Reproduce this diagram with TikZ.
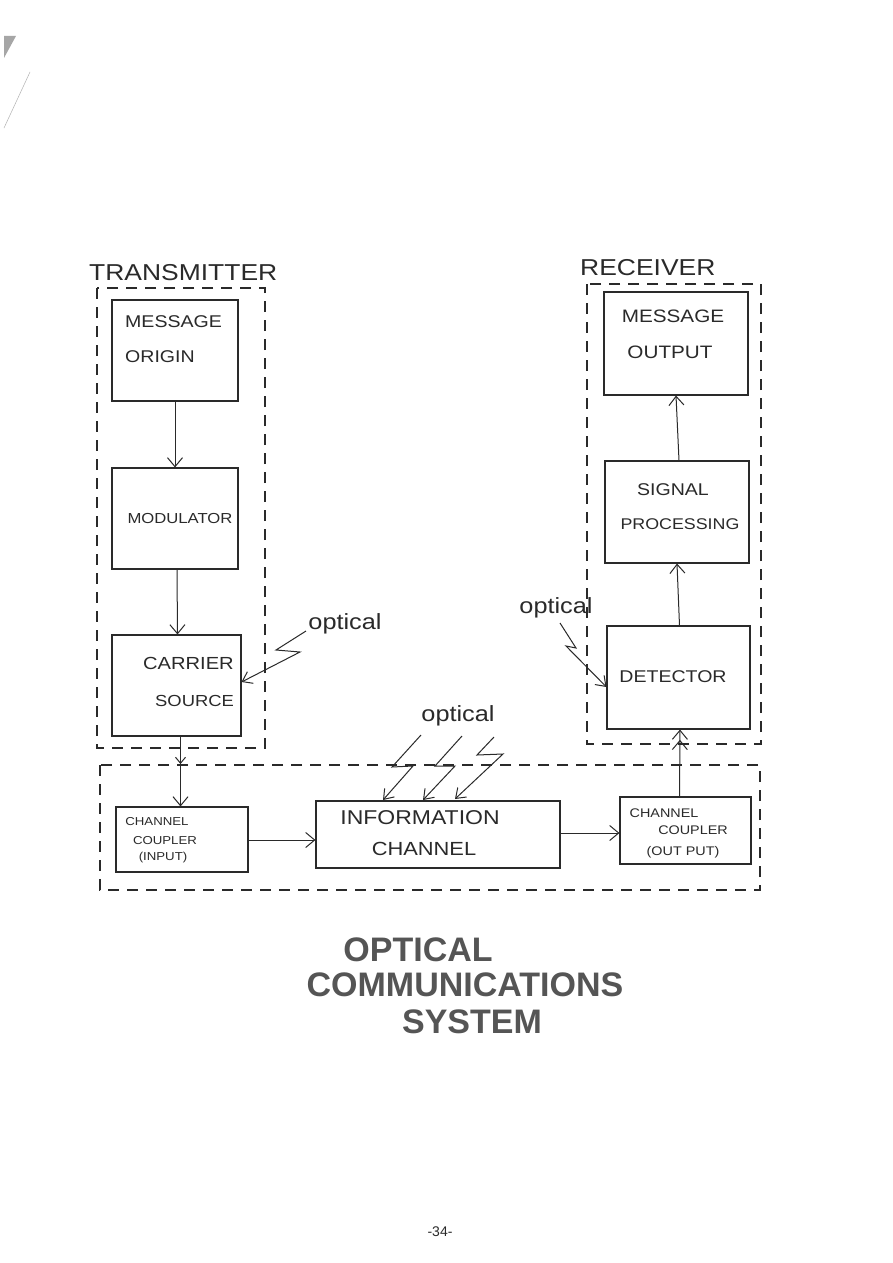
\documentclass[tikz,border=0pt]{standalone}
\usepackage{fontspec}
\setmainfont{Liberation Sans}
\newfontfamily\hand[FakeStretch=1.15]{Liberation Sans}
\usetikzlibrary{arrows.meta}
\definecolor{ink}{HTML}{2A2A2A}
\definecolor{title}{HTML}{555555}
\newcommand{\fs}[1]{\fontsize{#1}{#1}\selectfont}
\tikzset{
  blk/.style={draw=ink, line width=1.1pt, inner sep=0pt},
  grp/.style={draw=ink, line width=1.1pt, dash pattern=on 11pt off 8pt},
  flow/.style={draw=ink, line width=1pt, -{Straight Barb[length=9pt,width=15pt,line width=1pt]}},
  smallflow/.style={draw=ink, line width=1pt, -{Straight Barb[length=6pt,width=10pt,line width=1pt]}},
  bolt/.style={draw=ink, line width=1pt, line join=miter, -{Straight Barb[length=9pt,width=13pt,line width=1pt]}},
  txt/.style={text=ink, inner sep=0pt, font=\hand},
  opt/.style={text=ink, font=\hand\fs{22}, inner sep=0pt},
  ttl/.style={text=title, font=\bfseries\fs{34}, inner sep=0pt},
}
\begin{document}
\begin{tikzpicture}[x=1pt,y=-1pt]
\useasboundingbox (0,0) rectangle (893,1263);
\fill[white] (0,0) rectangle (893,1263);

% page marks
\fill[gray!70] (4,36) -- (16,36) -- (4,58) -- cycle;
\draw[gray!60, line width=0.5pt] (4,128) -- (30,72);

% group boxes
\draw[grp] (97,288) rectangle (265,748);
\draw[grp] (587,284) rectangle (761,744);
\draw[grp] (100,765) rectangle (760,890);

\node[txt, anchor=west, font=\hand\fs{23}] (ttx) at (89,273) {TRANSMITTER};
\node[txt, anchor=west, font=\hand\fs{23}] (trx) at (580,268) {RECEIVER};

% transmitter blocks
\node[blk, minimum width=126pt, minimum height=101pt] (mo) at (175,350.5) {};
\node[txt, anchor=west, font=\hand\fs{17}] (mot1) at (125,322) {MESSAGE};
\node[txt, anchor=west, font=\hand\fs{17}] (mot2) at (125,357) {ORIGIN};
\node[blk, minimum width=126pt, minimum height=101pt] (mod) at (175,518.5) {};
\node[txt, font=\hand\fs{14.5}] (modt) at (180,519) {MODULATOR};
\node[blk, minimum width=129pt, minimum height=101pt] (cs) at (176.5,685.5) {};
\node[txt, anchor=west, font=\hand\fs{17.5}] (cst1) at (143,663) {CARRIER};
\node[txt, anchor=west, font=\hand\fs{16}] (cst2) at (155,701) {SOURCE};

% receiver blocks
\node[blk, minimum width=144pt, minimum height=103pt] (mout) at (676,343.5) {};
\node[txt, font=\hand\fs{18}] (moutt1) at (673,316) {MESSAGE};
\node[txt, font=\hand\fs{18}] (moutt2) at (670,352) {OUTPUT};
\node[blk, minimum width=144pt, minimum height=102pt] (sp) at (677,512) {};
\node[txt, font=\hand\fs{17}] (spt1) at (673,490) {SIGNAL};
\node[txt, font=\hand\fs{15.5}] (spt2) at (680,524) {PROCESSING};
\node[blk, minimum width=143pt, minimum height=103pt] (det) at (678.5,677.5) {};
\node[txt, font=\hand\fs{17}] (dett) at (673,677) {DETECTOR};

% channel blocks
\node[blk, minimum width=132pt, minimum height=65pt] (cci) at (182,839.5) {};
\node[txt, font=\hand\fs{11.5}] (ccit1) at (157,822) {CHANNEL};
\node[txt, font=\hand\fs{11.5}] (ccit2) at (165,841) {COUPLER};
\node[txt, font=\hand\fs{11.5}] (ccit3) at (163,858) {(INPUT)};
\node[blk, minimum width=244pt, minimum height=67pt] (ic) at (438,834.5) {};
\node[txt, font=\hand\fs{20}] (ict1) at (420,818) {INFORMATION};
\node[txt, font=\hand\fs{19}] (ict2) at (424,849) {CHANNEL};
\node[blk, minimum width=131pt, minimum height=67pt] (cco) at (685.5,830.5) {};
\node[txt, font=\hand\fs{12.5}] (ccot1) at (664,813) {CHANNEL};
\node[txt, font=\hand\fs{12.5}] (ccot2) at (693,830) {COUPLER};
\node[txt, font=\hand\fs{12.5}] (ccot3) at (683,852) {(OUT PUT)};

% flow arrows
\draw[flow] (mo.south) -- (mod.north);
\draw[flow] ([xshift=2pt]mod.south) -- ([xshift=1pt]cs.north);
\coordinate (csmid) at ([xshift=4pt]cs.south |- 0,764);
\draw[smallflow] ([xshift=4pt]cs.south) -- (csmid);
\draw[flow] ([xshift=4pt]cs.south) -- (cci.north -| csmid);
\draw[flow] (cci.east |- 0,840) -- (ic.west |- 0,840);
\draw[flow] (ic.east |- 0,833) -- (cco.west |- 0,833);
\draw[draw=ink, line width=1pt, -{Straight Barb[length=9pt,width=15pt,line width=1pt] Straight Barb[length=9pt,width=15pt,line width=1pt]}] ([xshift=-6pt]cco.north) -- ([xshift=1.5pt]det.south);
\draw[flow] ([xshift=1pt]det.north) -- (sp.south);
\draw[flow] ([xshift=2pt]sp.north) -- (mout.south);

% optical signals
\node[opt] (o1) at (345,624) {optical};
\coordinate (o1a) at (306,631);
\draw[bolt] (o1a) -- (276,650) -- (300,652) -- (cs.east |- 0,682);

\node[opt] (o2) at (556,608) {optical};
\coordinate (o2a) at (560,623);
\draw[bolt] (o2a) -- (576,648) -- (566,646) -- (det.west |- 0,687);

\node[opt] (o3) at (458,716) {optical};
\coordinate (b1) at (421,735);
\coordinate (b2) at (462,736);
\coordinate (b3) at (494,737);
\draw[bolt] (b1) -- (392,767) -- (413,766) -- (383,800);
\draw[bolt] (b2) -- (435,766) -- (455,766) -- (423,800);
\draw[bolt] (b3) -- (477,755) -- (503,754) -- (455,799);

% title
\node[ttl] (t1) at (418,950) {OPTICAL};
\node[ttl] (t2) at (465,985) {COMMUNICATIONS};
\node[ttl] (t3) at (472,1022) {SYSTEM};

% page number
\node[text=ink, font=\fs{14}, inner sep=0pt] (pg) at (440,1232) {-34-};
\end{tikzpicture}
\end{document}
